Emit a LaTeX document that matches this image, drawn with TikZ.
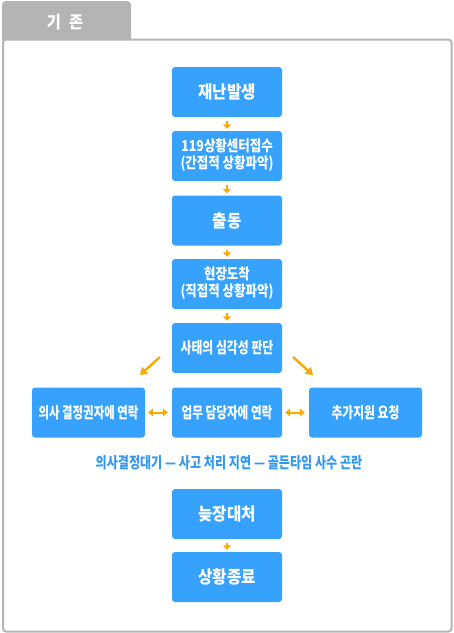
\documentclass[tikz,border=0pt]{standalone}
\usepackage{graphicx}
\usepackage{fontspec}
\setmainfont{Noto Sans CJK KR}
\usetikzlibrary{arrows.meta}
\definecolor{boxblue}{RGB}{54,162,253}
\definecolor{arroworange}{RGB}{247,170,0}
\definecolor{txtblue}{RGB}{52,152,238}
\definecolor{framegray}{RGB}{180,180,180}
\newcommand\hsq[2]{\scalebox{#1}[1]{#2}}
\newcommand\twoline[2]{\begin{tabular}{@{}c@{}}#1\\#2\end{tabular}}
\tikzset{
  stepbox/.style={fill=boxblue, text=white, minimum width=110pt, minimum height=50pt,
    rounded corners=3pt, inner sep=0pt, align=center},
  bigtxt/.style={font=\bfseries\fontsize{17.5}{20}\selectfont},
  twotxt/.style={font=\bfseries\fontsize{15}{16}\selectfont},
  smalltxt/.style={font=\bfseries\fontsize{15.5}{18}\selectfont},
  downarr/.style={draw=arroworange, line width=2pt, -{Triangle[width=8pt,length=4.5pt]},
    shorten <=4pt, shorten >=2pt},
  diagarr/.style={draw=arroworange, line width=2.4pt, -{Triangle[width=9pt,length=7pt]}},
  dblarr/.style={draw=arroworange, line width=2pt, {Triangle[width=8pt,length=5pt]}-{Triangle[width=8pt,length=5pt]},
    shorten <=3pt, shorten >=4pt},
}
\begin{document}
\begin{tikzpicture}[x=1pt,y=-1pt]
\useasboundingbox (0,0) rectangle (454,633);
% tab
\fill[framegray] (2,40) {[rounded corners=4pt] -- (2,1) -- (131,1)} -- (131,40) -- cycle;
\node[font=\bfseries\fontsize{17}{19}\selectfont, text=white] (tab) at (65,22) {\hsq{0.9}{기\hspace{9pt}존}};
% frame
\draw[framegray, line width=2pt, rounded corners=3pt] (3,39.5) rectangle (451.5,631.5);
% boxes
\node[stepbox, bigtxt] (b1) at (227,92) {\hsq{0.89}{재난발생}};
\node[stepbox, twotxt] (b2) at (227,156) {\hsq{0.83}{\twoline{119상황센터접수}{(간접적 상황파악)}}};
\node[stepbox, bigtxt] (b3) at (227,220.5) {\hsq{0.89}{출동}};
\node[stepbox, twotxt] (b4) at (227,284) {\hsq{0.83}{\twoline{현장도착}{(직접적 상황파악)}}};
\node[stepbox, smalltxt] (b5) at (227,348) {\hsq{0.764}{사태의 심각성 판단}};
\node[stepbox, smalltxt, minimum width=113pt] (lb) at (88.5,412.5) {\hsq{0.737}{의사 결정권자에 연락}};
\node[stepbox, smalltxt] (mb) at (227,412.5) {\hsq{0.75}{업무 담당자에 연락}};
\node[stepbox, smalltxt, minimum width=113pt] (rb) at (365.5,412.5) {\hsq{0.76}{추가지원 요청}};
\node[text=txtblue, font=\bfseries\fontsize{15.5}{18}\selectfont] (note) at (229,463) {\hsq{0.78}{의사결정대기 — 사고 처리 지연 — 골든타임 사수 곤란}};
\node[stepbox, bigtxt] (b6) at (227,514) {\hsq{0.89}{늦장대처}};
\node[stepbox, bigtxt] (b7) at (227,577) {\hsq{0.89}{상황종료}};
% arrows
\draw[downarr] (b1) -- (b2);
\draw[downarr] (b2) -- (b3);
\draw[downarr] (b3) -- (b4);
\draw[downarr] (b4) -- (b5);
\draw[downarr] (b6) -- (b7);
\coordinate (dl1) at (160,357);
\coordinate (dl2) at (140,375);
\coordinate (dr1) at (293,357);
\coordinate (dr2) at (313,375);
\draw[diagarr] (dl1) -- (dl2);
\draw[diagarr] (dr1) -- (dr2);
\draw[dblarr] (lb) -- (mb);
\draw[dblarr] (mb) -- (rb);
\end{tikzpicture}
\end{document}
